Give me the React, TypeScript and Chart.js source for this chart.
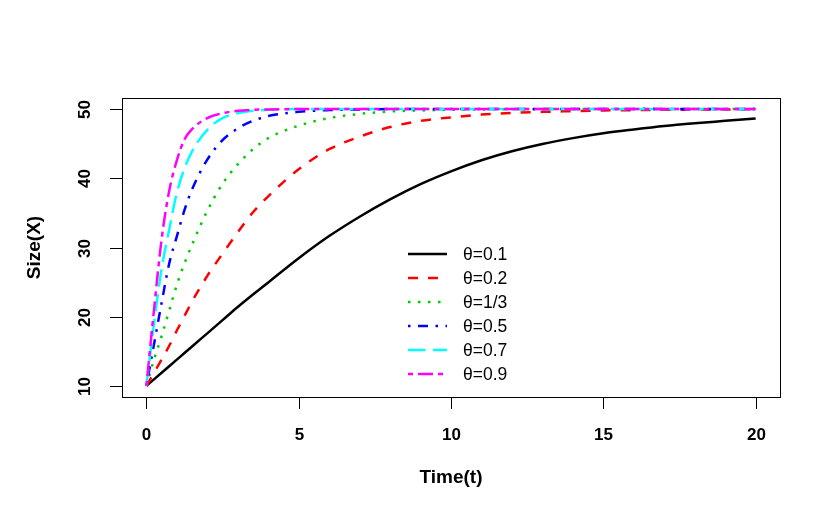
import { useEffect, useRef } from "react";
import { Chart, registerables } from "chart.js";

Chart.register(...registerables);

// ---- data ----
const timePoints = [0, 0.25, 0.5, 0.75, 1, 1.25, 1.5, 2, 2.5, 3, 3.5, 4, 5, 6, 7, 8, 9, 10, 11, 12, 13, 14, 15, 16, 17, 18, 19, 20];

const sizeTheta01 = [10, 10.95, 11.9, 12.85, 13.8, 14.75, 15.7, 17.6, 19.5, 21.4, 23.2, 24.95, 28.45, 31.65, 34.45, 36.95, 39.15, 41.0, 42.6, 43.9, 44.95, 45.8, 46.5, 47.05, 47.55, 47.95, 48.3, 48.65];
const sizeTheta02 = [10, 11.9, 13.8, 15.8, 18.0, 20.1, 22.2, 25.9, 29.1, 32.2, 35.1, 37.4, 41.3, 44.2, 46.0, 47.4, 48.3, 48.8, 49.2, 49.45, 49.6, 49.7, 49.8, 49.85, 49.9, 49.93, 49.95, 49.97];
const sizeTheta033 = [10, 13.8, 17.2, 20.9, 24.6, 27.7, 30.4, 35.3, 39.2, 42.0, 44.2, 45.8, 47.6, 48.7, 49.3, 49.65, 49.8, 49.9, 49.95, 49.97, 49.99, 50, 50, 50, 50, 50, 50, 50];
const sizeTheta05 = [10, 16.0, 22.0, 27.7, 31.6, 35.4, 38.4, 42.7, 45.5, 47.2, 48.3, 49.0, 49.6, 49.85, 49.95, 50, 50, 50, 50, 50, 50, 50, 50, 50, 50, 50, 50, 50];
const sizeTheta07 = [10, 19.0, 26.9, 32.6, 37.9, 41.4, 43.9, 47.0, 48.7, 49.4, 49.75, 49.9, 50, 50, 50, 50, 50, 50, 50, 50, 50, 50, 50, 50, 50, 50, 50, 50];
const sizeTheta09 = [10, 21.0, 31.2, 38.2, 42.6, 45.6, 47.1, 48.7, 49.4, 49.75, 49.9, 49.95, 50, 50, 50, 50, 50, 50, 50, 50, 50, 50, 50, 50, 50, 50, 50, 50];

const seriesLabels = ["θ=0.1", "θ=0.2", "θ=1/3", "θ=0.5", "θ=0.7", "θ=0.9"];
const seriesValues = [sizeTheta01, sizeTheta02, sizeTheta033, sizeTheta05, sizeTheta07, sizeTheta09];

const xTickValues = [0, 5, 10, 15, 20];
const yTickValues = [10, 20, 30, 40, 50];

const xTitle = "Time(t)";
const yTitle = "Size(X)";

// ---- styles ----
const seriesColors = ["#000000", "#FF0000", "#00CD00", "#0000FF", "#00FFFF", "#FF00FF"];
const LW = 2.5;
const seriesDashes: number[][] = [
  [],
  [10, 10],
  [2.5, 7.5],
  [2.5, 7.5, 10, 7.5],
  [17.5, 7.5],
  [5, 5, 15, 5],
];

const FONT = '"Liberation Sans", Arial, Helvetica, sans-serif';

const rPlotPlugin = {
  id: "rPlot",
  afterDraw(chart: any) {
    const ctx: CanvasRenderingContext2D = chart.ctx;
    const area = chart.chartArea;
    const xs = chart.scales.x;
    const ys = chart.scales.y;
    ctx.save();
    ctx.setLineDash([]);
    ctx.strokeStyle = "#000";
    ctx.fillStyle = "#000";
    ctx.lineWidth = 1;
    // box
    ctx.strokeRect(area.left + 0.5, area.top + 0.5, area.right - area.left, area.bottom - area.top);

    // x axis ticks and labels
    ctx.font = `bold 17px ${FONT}`;
    ctx.textAlign = "center";
    ctx.textBaseline = "middle";
    for (const v of xTickValues) {
      const px = Math.round(xs.getPixelForValue(v)) + 0.5;
      ctx.beginPath();
      ctx.moveTo(px, area.bottom);
      ctx.lineTo(px, area.bottom + 12);
      ctx.stroke();
      ctx.fillText(String(v), px, area.bottom + 38);
    }
    // y axis ticks and labels (rotated like R las=0)
    for (const v of yTickValues) {
      const py = Math.round(ys.getPixelForValue(v)) + 0.5;
      ctx.beginPath();
      ctx.moveTo(area.left, py);
      ctx.lineTo(area.left - 12, py);
      ctx.stroke();
      ctx.save();
      ctx.translate(area.left - 37, py);
      ctx.rotate(-Math.PI / 2);
      ctx.fillText(String(v), 0, 0);
      ctx.restore();
    }
    // axis titles
    ctx.font = `bold 19px ${FONT}`;
    ctx.fillText(xTitle, (area.left + area.right) / 2, 478);
    ctx.save();
    ctx.translate(35, (area.top + area.bottom) / 2);
    ctx.rotate(-Math.PI / 2);
    ctx.fillText(yTitle, 0, 0);
    ctx.restore();

    // legend
    const rowY0 = 254;
    const rowGap = 24;
    ctx.font = `17.5px ${FONT}`;
    ctx.textAlign = "left";
    seriesLabels.forEach((lab, i) => {
      const y = rowY0 + i * rowGap;
      ctx.save();
      ctx.strokeStyle = seriesColors[i];
      ctx.lineWidth = LW;
      ctx.lineCap = "butt";
      ctx.setLineDash(seriesDashes[i]);
      ctx.beginPath();
      ctx.moveTo(408, y);
      ctx.lineTo(447, y);
      ctx.stroke();
      ctx.restore();
      ctx.fillStyle = "#000";
      ctx.fillText(lab, 463, y + 1);
    });
    ctx.restore();
  },
};

export default function App() {
  const canvasRef = useRef<HTMLCanvasElement | null>(null);

  useEffect(() => {
    document.body.style.margin = "0";
    const canvas = canvasRef.current;
    if (!canvas) return;
    const datasets = seriesValues.map((vals, i) => ({
      label: seriesLabels[i],
      data: timePoints.map((t, j) => ({ x: t, y: vals[j] })),
      borderColor: seriesColors[i],
      backgroundColor: seriesColors[i],
      borderWidth: LW,
      borderDash: seriesDashes[i],
      borderCapStyle: "butt" as const,
      pointRadius: 0,
      fill: false,
      cubicInterpolationMode: "monotone" as const,
      order: seriesValues.length - i,
    }));
    const chart = new Chart(canvas, {
      type: "line",
      data: { datasets },
      options: {
        responsive: false,
        animation: false,
        devicePixelRatio: 1,
        layout: { padding: { left: 122, right: 50, top: 98, bottom: 123 } },
        scales: {
          x: { type: "linear", min: -0.8, max: 20.8, display: false },
          y: { type: "linear", min: 8.4, max: 51.6, display: false },
        },
        plugins: { legend: { display: false }, tooltip: { enabled: false } },
      },
      plugins: [rPlotPlugin],
    });
    return () => chart.destroy();
  }, []);

  return (
    <div style={{ width: 830, height: 520, background: "#fff" }}>
      <canvas ref={canvasRef} width={830} height={520} style={{ width: 830, height: 520, display: "block" }} />
    </div>
  );
}
